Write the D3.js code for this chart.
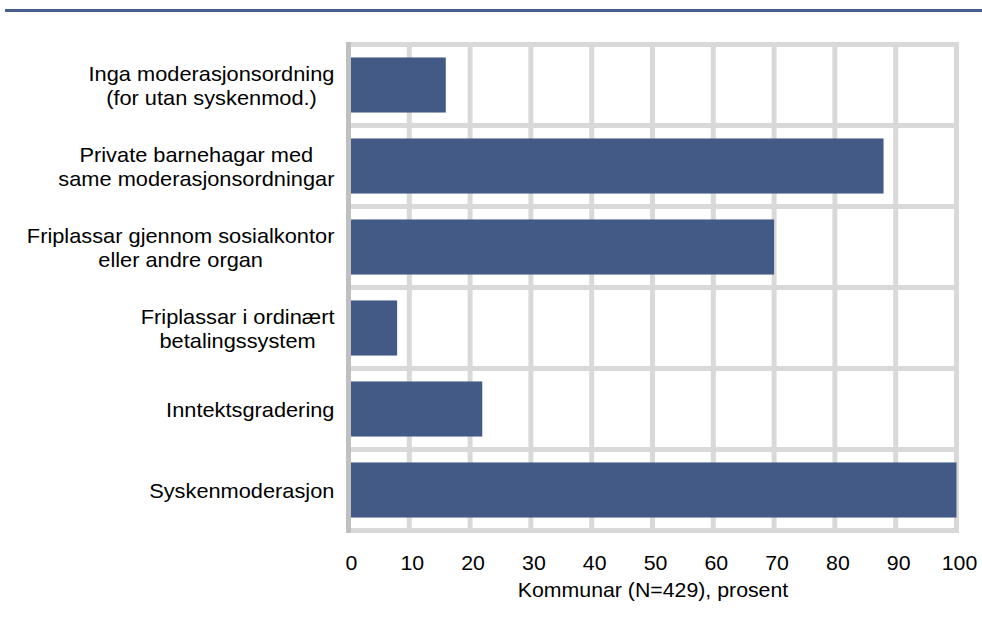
<!DOCTYPE html>
<html>
<head>
<meta charset="utf-8">
<script src="https://cdn.jsdelivr.net/npm/d3@7"></script>
<style>
  html, body { margin: 0; padding: 0; background: #fff; }
  svg { display: block; }
  text { font-family: "Liberation Sans", Arial, sans-serif; fill: #000; }
</style>
</head>
<body>
<svg id="chart" width="982" height="620"></svg>
<script>
const categories = [
  ["Inga moderasjonsordning", "(for utan syskenmod.)"],
  ["Private barnehagar med", "same moderasjonsordningar"],
  ["Friplassar gjennom sosialkontor", "eller andre organ"],
  ["Friplassar i ordinært", "betalingssystem"],
  ["Inntektsgradering"],
  ["Syskenmoderasjon"]
];
const values = [16, 88, 70, 8, 22, 100];
const xTicks = [0, 10, 20, 30, 40, 50, 60, 70, 80, 90, 100];
const xTitle = "Kommunar (N=429), prosent";

const svg = d3.select("#chart");
const keys = categories.map((c, i) => i);
const FS = 20, SX = 1.09;

const x = d3.scaleLinear().domain([0, 100]).range([348.5, 956.5]);
const y = d3.scaleBand().domain(keys).range([44.5, 530.5]).paddingInner(0.32).paddingOuter(0.16);
const rowStep = y.step();
const rowStart = i => y(i) - y.paddingOuter() * rowStep;

// helper: horizontally stretched text
function stext(parent, str, tx, ty, size, sx) {
  return parent.append("text")
    .attr("transform", `translate(${tx},${ty}) scale(${sx},1)`)
    .attr("text-anchor", "middle").attr("font-size", size)
    .text(str);
}

// top rule
svg.append("line").attr("x1", 5).attr("x2", 982).attr("y1", 10.5).attr("y2", 10.5)
  .attr("stroke", "#455f8c").attr("stroke-width", 3);

const grid = svg.append("g");
grid.selectAll("line.v").data(xTicks.slice(1)).join("line")
  .attr("class", "v")
  .attr("x1", d => x(d)).attr("x2", d => x(d))
  .attr("y1", 42).attr("y2", 533)
  .attr("stroke", "#d9d9d9").attr("stroke-width", 5);
const bounds = keys.map(rowStart).concat([530.5]);
grid.selectAll("line.h").data(bounds).join("line")
  .attr("class", "h")
  .attr("x1", 346).attr("x2", 959)
  .attr("y1", d => d).attr("y2", d => d)
  .attr("stroke", "#d9d9d9").attr("stroke-width", 5);

// bars
svg.append("g").selectAll("rect").data(values).join("rect")
  .attr("x", x(0))
  .attr("y", (d, i) => y(i))
  .attr("width", d => x(d) - x(0))
  .attr("height", y.bandwidth())
  .attr("fill", "#435a87");

// left axis line
svg.append("line").attr("x1", x(0)).attr("x2", x(0)).attr("y1", 42).attr("y2", 533)
  .attr("stroke", "#c0c0c0").attr("stroke-width", 5);

// category labels
const lblG = svg.append("g");
categories.forEach((lines, i) => {
  const cy = y(i) + y.bandwidth() / 2;
  const lh = 24;
  // measure widest line
  let maxW = 0;
  const probes = lines.map(l => lblG.append("text").attr("font-size", FS).text(l));
  probes.forEach(p => { maxW = Math.max(maxW, p.node().getComputedTextLength() * SX); p.remove(); });
  const cx = 334.5 - maxW / 2;
  lines.forEach((l, j) => {
    stext(lblG, l, cx, cy + (j - (lines.length - 1) / 2) * lh + 8, FS, SX);
  });
});

// x tick labels
const tickG = svg.append("g");
xTicks.forEach(d => stext(tickG, d, x(d) + 3, 570, FS, 1.065));

// x title
stext(svg, xTitle, 653, 597, FS, 1.065);
</script>
</body>
</html>
